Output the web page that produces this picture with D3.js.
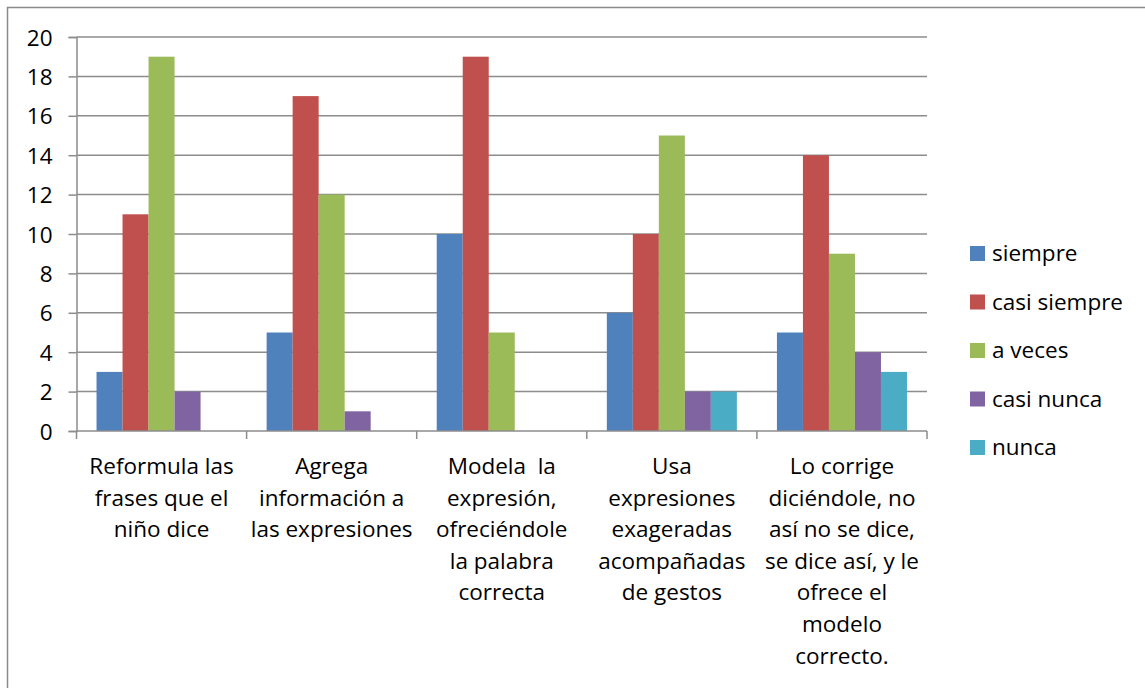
<!DOCTYPE html>
<html>
<head>
<meta charset="utf-8">
<script src="https://cdn.jsdelivr.net/npm/d3@7"></script>
<style>
  body { margin: 0; background: #fff; }
  svg text { font-family: "Open Sans", Lato, sans-serif; fill: #000; white-space: pre; }
</style>
</head>
<body>
<div class="content"></div>
<script>
const categories = [
  ["Reformula las", "frases que el", "niño dice"],
  ["Agrega", "información a", "las expresiones"],
  ["Modela  la", "expresión,", "ofreciéndole", "la palabra", "correcta"],
  ["Usa", "expresiones", "exageradas", "acompañadas", "de gestos"],
  ["Lo corrige", "diciéndole, no", "así no se dice,", "se dice así, y le", "ofrece el", "modelo", "correcto."]
];
const seriesNames = ["siempre", "casi siempre", "a veces", "casi nunca", "nunca"];
const colors = ["#4f81bd", "#c0504d", "#9bbb59", "#8064a2", "#4bacc6"];
const siempre = [3, 5, 10, 6, 5];
const casiSiempre = [11, 17, 19, 10, 14];
const aVeces = [19, 12, 5, 15, 9];
const casiNunca = [2, 1, 0, 2, 4];
const nunca = [0, 0, 0, 2, 3];
const yTicks = [0, 2, 4, 6, 8, 10, 12, 14, 16, 18, 20];

const series = [siempre, casiSiempre, aVeces, casiNunca, nunca];

const W = 1145, H = 688;
const plot = { left: 76.5, right: 927, top: 37, bottom: 431 };
const fontSize = "22.5px";

const svg = d3.select(".content").append("svg")
  .attr("width", W).attr("height", H);

// frame
svg.append("rect")
  .attr("x", 7.5).attr("y", 7.5)
  .attr("width", W + 10).attr("height", H + 10)
  .attr("fill", "none").attr("stroke", "#8a8a8a").attr("stroke-width", 1.5);

const x0 = d3.scaleBand()
  .domain(d3.range(categories.length))
  .range([plot.left, plot.right]);
const x1 = d3.scaleBand()
  .domain(d3.range(seriesNames.length))
  .range([0, x0.bandwidth()])
  .paddingOuter(0.77);
const y = d3.scaleLinear().domain([0, 20]).range([plot.bottom, plot.top]);

// gridlines
svg.append("g").selectAll("line")
  .data(yTicks.filter(t => t > 0))
  .join("line")
  .attr("x1", plot.left).attr("x2", plot.right)
  .attr("y1", d => y(d)).attr("y2", d => y(d))
  .attr("stroke", "#8c8c8c").attr("stroke-width", 1.5);

// bars
const groups = svg.append("g").selectAll("g")
  .data(categories.map((c, i) => i))
  .join("g")
  .attr("transform", i => `translate(${x0(i)},0)`);

groups.selectAll("rect")
  .data(i => series.map((s, k) => ({ k, v: s[i] })).filter(d => d.v > 0))
  .join("rect")
  .attr("x", d => x1(d.k))
  .attr("width", x1.bandwidth())
  .attr("y", d => y(d.v))
  .attr("height", d => y(0) - y(d.v))
  .attr("fill", d => colors[d.k]);

// y axis
const yAxis = d3.axisLeft(y).tickValues(yTicks).tickSize(8).tickPadding(16);
const yg = svg.append("g")
  .attr("transform", `translate(${plot.left},0)`)
  .call(yAxis);
yg.select(".domain").attr("stroke", "#8c8c8c").attr("stroke-width", 1.5);
yg.selectAll(".tick line").attr("stroke", "#8c8c8c").attr("stroke-width", 1.5);
yg.selectAll(".tick text")
  .style("font-family", "\"Open Sans\", sans-serif")
  .style("font-size", fontSize)
  .attr("dy", "0.36em");

// x axis
const xTicks = d3.range(categories.length + 1).map(i => plot.left + i * x0.bandwidth());
const xg = svg.append("g");
xg.append("line")
  .attr("x1", plot.left).attr("x2", plot.right)
  .attr("y1", plot.bottom).attr("y2", plot.bottom)
  .attr("stroke", "#8c8c8c").attr("stroke-width", 1.5);
xg.selectAll("line.tk")
  .data(xTicks)
  .join("line")
  .attr("class", "tk")
  .attr("x1", d => d).attr("x2", d => d)
  .attr("y1", plot.bottom).attr("y2", plot.bottom + 8)
  .attr("stroke", "#8c8c8c").attr("stroke-width", 1.5);

// category labels
xg.selectAll("text")
  .data(categories)
  .join("text")
  .attr("text-anchor", "middle")
  .style("font-size", fontSize)
  .attr("transform", (d, i) => `translate(${x0(i) + x0.bandwidth() / 2},474)`)
  .selectAll("tspan")
  .data(d => d)
  .join("tspan")
  .attr("x", 0)
  .attr("y", (d, j) => j * 31.6)
  .text(d => d);

// legend
const legend = svg.append("g").attr("transform", "translate(970,253)");
const li = legend.selectAll("g")
  .data(seriesNames)
  .join("g")
  .attr("transform", (d, i) => `translate(0,${i * 48.5})`);
li.append("rect")
  .attr("y", -7).attr("width", 15).attr("height", 15)
  .attr("fill", (d, i) => colors[i]);
li.append("text")
  .attr("x", 22).attr("dy", "0.36em")
  .style("font-size", fontSize)
  .text(d => d);
</script>
</body>
</html>
